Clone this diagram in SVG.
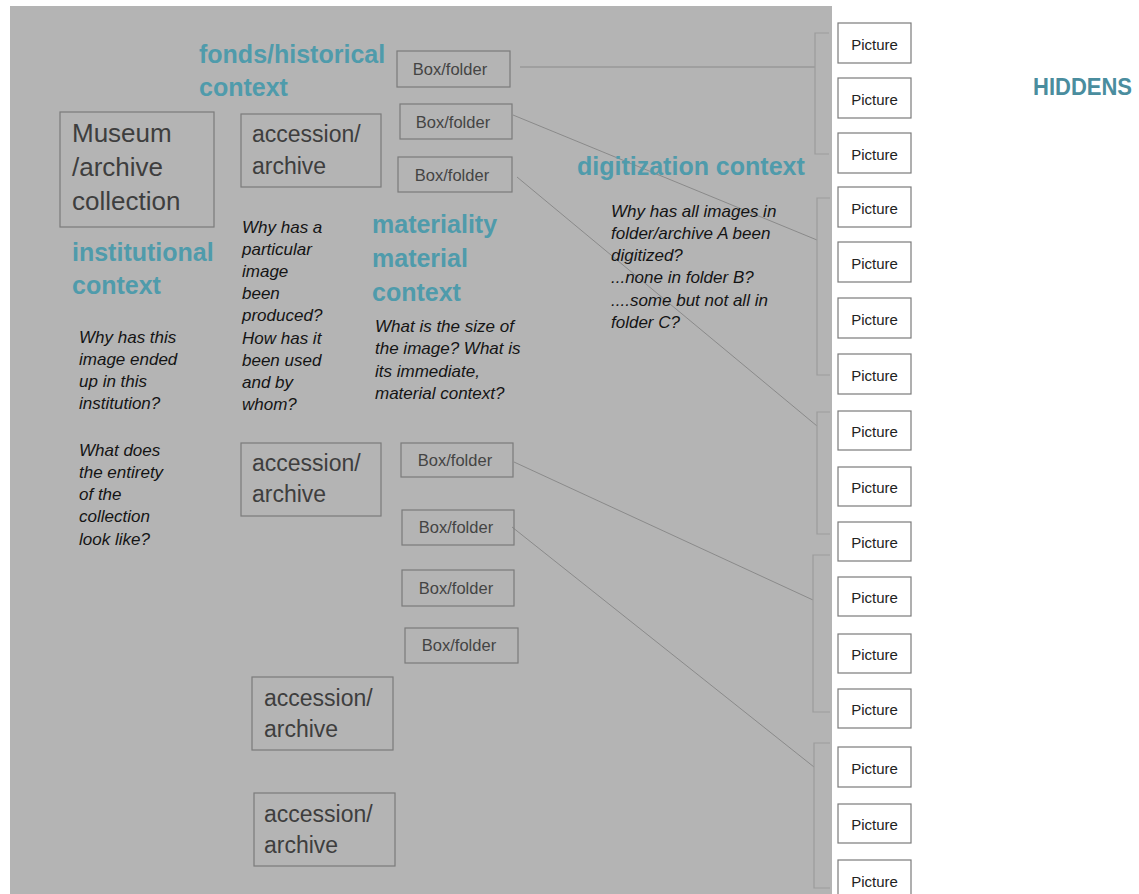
<svg xmlns="http://www.w3.org/2000/svg" width="1139" height="894" viewBox="0 0 1139 894">
<style>
.bg{fill:#b4b4b4}
.node{fill:none;stroke:#7b7b7b;stroke-width:1.2}
.pic{fill:#ffffff;stroke:#7b7b7b;stroke-width:1.2}
.big{font-family:"Liberation Sans",Arial,sans-serif;font-size:26px;fill:#3e3e3e}
.acc{font-family:"Liberation Sans",Arial,sans-serif;font-size:23px;fill:#3e3e3e}
.box{font-family:"Liberation Sans",Arial,sans-serif;font-size:16.5px;fill:#444;text-anchor:middle}
.pt{font-family:"Liberation Sans",Arial,sans-serif;font-size:15px;fill:#222;text-anchor:middle}
.head{font-family:"Liberation Sans",Arial,sans-serif;font-size:25px;font-weight:bold;fill:#4f9bab}
.q{font-family:"Liberation Sans",Arial,sans-serif;font-size:17px;font-style:italic;fill:#141414}
.conn{stroke:#8a8a8a;stroke-width:1;fill:none}
.brk{stroke:#9c9c9c;stroke-width:1.2;fill:none}
</style>
<rect class="bg" x="10" y="6" width="822" height="888"/>

<g id="connectors">
<line class="conn" x1="520" y1="67" x2="815" y2="67"/>
<line class="conn" x1="513" y1="115" x2="817" y2="240"/>
<line class="conn" x1="517" y1="177" x2="817" y2="426"/>
<line class="conn" x1="514" y1="462" x2="813" y2="600"/>
<line class="conn" x1="512" y1="527" x2="814" y2="767"/>
</g>

<g id="brackets">
<path class="brk" d="M829,33 H815 V154 H829"/>
<path class="brk" d="M830,198 H817 V375 H830"/>
<path class="brk" d="M830,412 H817 V534 H830"/>
<path class="brk" d="M830,555 H813 V712 H830"/>
<path class="brk" d="M830,743 H814 V888 H830"/>
</g>

<g id="museum">
<rect class="node" x="60" y="112" width="154" height="115"/>
<text class="big" x="72" y="142">Museum</text>
<text class="big" x="72" y="176">/archive</text>
<text class="big" x="72" y="210">collection</text>
</g>

<g id="accession1">
<rect class="node" x="241" y="114" width="140" height="73"/>
<text class="acc" x="252" y="142">accession/</text>
<text class="acc" x="252" y="174">archive</text>
</g>
<g id="accession2">
<rect class="node" x="241" y="443" width="140" height="73"/>
<text class="acc" x="252" y="471">accession/</text>
<text class="acc" x="252" y="502">archive</text>
</g>
<g id="accession3">
<rect class="node" x="252" y="677" width="141" height="73"/>
<text class="acc" x="264" y="706">accession/</text>
<text class="acc" x="264" y="737">archive</text>
</g>
<g id="accession4">
<rect class="node" x="254" y="793" width="141" height="73"/>
<text class="acc" x="264" y="822">accession/</text>
<text class="acc" x="264" y="853">archive</text>
</g>

<g id="box1"><rect class="node" x="397" y="51" width="113" height="36"/><text class="box" x="450" y="75">Box/folder</text></g>
<g id="box2"><rect class="node" x="400" y="104" width="112" height="35"/><text class="box" x="453" y="128">Box/folder</text></g>
<g id="box3"><rect class="node" x="398" y="157" width="114" height="35"/><text class="box" x="452" y="181">Box/folder</text></g>
<g id="box4"><rect class="node" x="401" y="443" width="112" height="34"/><text class="box" x="455" y="466">Box/folder</text></g>
<g id="box5"><rect class="node" x="402" y="510" width="112" height="35"/><text class="box" x="456" y="533">Box/folder</text></g>
<g id="box6"><rect class="node" x="402" y="570" width="112" height="36"/><text class="box" x="456" y="594">Box/folder</text></g>
<g id="box7"><rect class="node" x="405" y="628" width="113" height="35"/><text class="box" x="459" y="651">Box/folder</text></g>

<g id="pic1"><rect class="pic" x="838" y="23" width="73" height="40"/><text class="pt" x="874.5" y="50">Picture</text></g>
<g id="pic2"><rect class="pic" x="838" y="78" width="73" height="40"/><text class="pt" x="874.5" y="105">Picture</text></g>
<g id="pic3"><rect class="pic" x="838" y="133" width="73" height="40"/><text class="pt" x="874.5" y="160">Picture</text></g>
<g id="pic4"><rect class="pic" x="838" y="187" width="73" height="40"/><text class="pt" x="874.5" y="214">Picture</text></g>
<g id="pic5"><rect class="pic" x="838" y="242" width="73" height="40"/><text class="pt" x="874.5" y="269">Picture</text></g>
<g id="pic6"><rect class="pic" x="838" y="298" width="73" height="40"/><text class="pt" x="874.5" y="325">Picture</text></g>
<g id="pic7"><rect class="pic" x="838" y="354" width="73" height="40"/><text class="pt" x="874.5" y="381">Picture</text></g>
<g id="pic8"><rect class="pic" x="838" y="411" width="73" height="39"/><text class="pt" x="874.5" y="437">Picture</text></g>
<g id="pic9"><rect class="pic" x="838" y="467" width="73" height="39"/><text class="pt" x="874.5" y="493">Picture</text></g>
<g id="pic10"><rect class="pic" x="838" y="522" width="73" height="39"/><text class="pt" x="874.5" y="548">Picture</text></g>
<g id="pic11"><rect class="pic" x="838" y="577" width="73" height="39"/><text class="pt" x="874.5" y="603">Picture</text></g>
<g id="pic12"><rect class="pic" x="838" y="634" width="73" height="39"/><text class="pt" x="874.5" y="660">Picture</text></g>
<g id="pic13"><rect class="pic" x="838" y="689" width="73" height="39"/><text class="pt" x="874.5" y="715">Picture</text></g>
<g id="pic14"><rect class="pic" x="838" y="747" width="73" height="40"/><text class="pt" x="874.5" y="774">Picture</text></g>
<g id="pic15"><rect class="pic" x="838" y="804" width="73" height="39"/><text class="pt" x="874.5" y="830">Picture</text></g>
<g id="pic16"><rect class="pic" x="838" y="860" width="73" height="40"/><text class="pt" x="874.5" y="887">Picture</text></g>

<g id="heading-fonds">
<text class="head" x="199" y="63">fonds/historical</text>
<text class="head" x="199" y="96">context</text>
</g>
<g id="heading-institutional">
<text class="head" x="72" y="261">institutional</text>
<text class="head" x="72" y="294">context</text>
</g>
<g id="heading-materiality">
<text class="head" x="372" y="233">materiality</text>
<text class="head" x="372" y="267">material</text>
<text class="head" x="372" y="301">context</text>
</g>
<g id="heading-digitization">
<text class="head" x="577" y="175">digitization context</text>
</g>
<g id="heading-hiddens">
<text class="head" x="1033" y="95" style="font-size:24px;fill:#4a8d9e" textLength="99" lengthAdjust="spacingAndGlyphs">HIDDENS</text>
</g>

<g id="q-institutional">
<text class="q" x="79" y="343">Why has this</text>
<text class="q" x="79" y="365">image ended</text>
<text class="q" x="79" y="387">up in this</text>
<text class="q" x="79" y="409">institution?</text>
<text class="q" x="79" y="456">What does</text>
<text class="q" x="79" y="478">the entirety</text>
<text class="q" x="79" y="500">of the</text>
<text class="q" x="79" y="522">collection</text>
<text class="q" x="79" y="545">look like?</text>
</g>
<g id="q-fonds">
<text class="q" x="242" y="233">Why has a</text>
<text class="q" x="242" y="255">particular</text>
<text class="q" x="242" y="277">image</text>
<text class="q" x="242" y="299">been</text>
<text class="q" x="242" y="321">produced?</text>
<text class="q" x="242" y="344">How has it</text>
<text class="q" x="242" y="366">been used</text>
<text class="q" x="242" y="388">and by</text>
<text class="q" x="242" y="410">whom?</text>
</g>
<g id="q-materiality">
<text class="q" x="375" y="332">What is the size of</text>
<text class="q" x="375" y="354">the image? What is</text>
<text class="q" x="375" y="377">its immediate,</text>
<text class="q" x="375" y="399">material context?</text>
</g>
<g id="q-digitization">
<text class="q" x="611" y="217">Why has all images in</text>
<text class="q" x="611" y="239">folder/archive A been</text>
<text class="q" x="611" y="261">digitized?</text>
<text class="q" x="611" y="283">...none in folder B?</text>
<text class="q" x="611" y="306">....some but not all in</text>
<text class="q" x="611" y="328">folder C?</text>
</g>
</svg>
